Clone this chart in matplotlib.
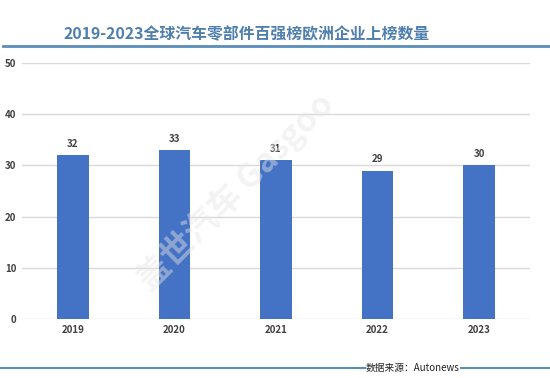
import matplotlib.pyplot as plt
from matplotlib.lines import Line2D

plt.rcParams['font.family'] = ['Noto Sans CJK SC', 'DejaVu Sans']

years = ["2019", "2020", "2021", "2022", "2023"]
counts = [32, 33, 31, 29, 30]
yticks = [0, 10, 20, 30, 40, 50]

fig = plt.figure(figsize=(5.5, 3.78), dpi=100)
ax = fig.add_axes([0.04, 0.156, 0.9236, 0.6773])

x = range(len(years))
bars = ax.bar(x, counts, width=0.31, color="#4472C4", zorder=3)
for xi, v in zip(x, counts):
    ax.text(xi, v + 1.2, str(v), ha="center", va="bottom", fontsize=7,
            fontweight="bold", color="#404040")

ax.set_xlim(-0.5, len(years) - 0.5)
ax.set_ylim(0, 50)
ax.set_yticks(yticks)
ax.set_xticks(list(x))
ax.set_xticklabels(years)
ax.grid(axis="y", color="#d9d9d9", linewidth=1, zorder=0)
for s in ax.spines.values():
    s.set_visible(False)
ax.tick_params(length=0, labelsize=7, labelcolor="#404040", pad=4)
for lab in ax.get_xticklabels() + ax.get_yticklabels():
    lab.set_fontweight("bold")
ax.tick_params(axis="y", pad=4)

# faint watermark
ax.text(1.6, 25, "盖世汽车 Gasgoo", rotation=45, ha="center", va="center",
        fontsize=24, color="#e6e6e6", alpha=0.45, zorder=4, fontweight="bold")

# title and rules
fig.text(0.448, 0.91, "2019-2023全球汽车零部件百强榜欧洲企业上榜数量", ha="center",
         va="center", fontsize=11.4, fontweight="bold", color="#4f7fae")
fig.add_artist(Line2D([0.005, 1.0], [0.878, 0.878], color="#5b8dbb", linewidth=2))
fig.add_artist(Line2D([0.0, 0.664], [0.027, 0.027], color="#5b8dbb", linewidth=1.5))
fig.add_artist(Line2D([0.838, 1.0], [0.027, 0.027], color="#5b8dbb", linewidth=1.5))
fig.text(0.751, 0.027, "数据来源：Autonews", ha="center", va="center",
         fontsize=7, color="#222222")

fig.savefig("out.png", dpi=100)
